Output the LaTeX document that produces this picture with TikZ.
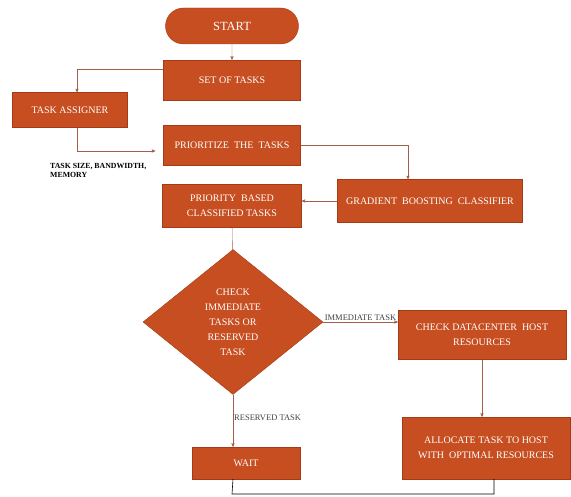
\documentclass[tikz,border=0pt]{standalone}
\usepackage{fontspec}
\setmainfont{Liberation Serif}
\usepackage{tikz}
\usetikzlibrary{arrows}
\usetikzlibrary{calc,positioning,shapes.geometric,shapes.misc}

\definecolor{taskfill}{RGB}{198,78,32}
\definecolor{taskedge}{RGB}{165,58,22}
\definecolor{flowline}{RGB}{160,95,70}

\begin{document}
\begin{tikzpicture}
[>=stealth',x=1pt,y=-1pt,
every node/.style={fill=taskfill,draw=taskedge,text=white,align=center,inner sep=2pt,font=\fontsize{10}{15}\selectfont},
procbox/.style={rectangle},
termbox/.style={rounded rectangle},
decbox/.style={diamond,inner sep=0pt},
flow/.style={draw=flowline,->},
lbl/.style={fill=none,draw=none,text=black!75,inner sep=1pt,font=\fontsize{8.5}{10}\selectfont}]

\useasboundingbox (0,0) rectangle (571,497);

\node[termbox,minimum width=137pt,minimum height=36pt,font=\fontsize{12.5}{14}\selectfont] (start) at (232,26) {START};
\node[procbox,minimum width=137pt,minimum height=40pt] (set) at (232,80) {SET OF TASKS};
\node[procbox,minimum width=115pt,minimum height=35pt] (assigner) at (70,110) {TASK ASSIGNER};
\node[procbox,minimum width=137pt,minimum height=40pt] (prior) at (232,145) {PRIORITIZE\ \ THE\ \ TASKS};
\node[procbox,minimum width=139pt,minimum height=43pt] (classed) at (232,206) {PRIORITY\ \ BASED\\CLASSIFIED TASKS};
\node[procbox,minimum width=185pt,minimum height=43pt] (gbc) at (430,201) {GRADIENT\ \ BOOSTING\ \ CLASSIFIER};
\node[decbox,minimum width=180pt,minimum height=145pt] (check) at (233,322) {CHECK\\IMMEDIATE\\TASKS OR\\RESERVED\\TASK};
\node[procbox,minimum width=168pt,minimum height=49pt] (host) at (482,335) {CHECK DATACENTER\ \ HOST\\RESOURCES};
\node[procbox,minimum width=168pt,minimum height=62pt] (alloc) at (486,448) {ALLOCATE TASK TO HOST\\WITH\ \ OPTIMAL RESOURCES};
\node[procbox,minimum width=108pt,minimum height=32pt] (wait) at (246,463) {WAIT};

\node[lbl,text=black,align=left,font=\bfseries\fontsize{7.8}{9}\selectfont,anchor=north west] (attrs) at (49,162) {TASK SIZE, BANDWIDTH,\\MEMORY};

\draw[flow] (start) -- (set);
\draw[flow] ([yshift=11pt]set.west) -| ([xshift=7pt]assigner.north);
\draw[flow,shorten >=8pt] ([xshift=7pt]assigner.south) |- ([yshift=-6pt]prior.west);
\draw[flow] (prior.east) -| ([xshift=-22pt]gbc.north);
\draw[flow] (gbc.west) -- (gbc.west -| classed.east);
\draw[draw=flowline] (classed) -- (check);
\draw[flow] (check.east) -- node[lbl,above] {IMMEDIATE TASK} (check.east -| host.west);
\draw[flow] (host) -- (host |- alloc.north);
\draw[flow] (check.south) -- node[lbl,right,pos=0.45] {RESERVED TASK} (check.south |- wait.north);

\coordinate (loopl) at (232,494);
\coordinate (loopr) at (494,494);
\draw[semithick] (check.south |- wait.south) -- (loopl) -- (loopr) -- (loopr |- alloc.south);

\end{tikzpicture}
\end{document}
